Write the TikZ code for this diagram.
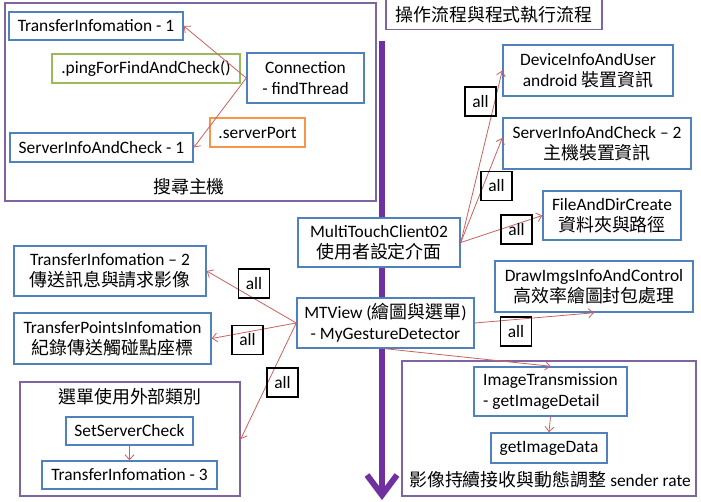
\documentclass[tikz,border=0pt]{standalone}
\usepackage{fontspec}
\setmainfont{Carlito}
\newfontfamily\cjk[Scale=1.03]{Noto Sans CJK TC}
\usetikzlibrary{arrows.meta}
\definecolor{bl}{RGB}{79,129,189}
\definecolor{pu}{RGB}{128,100,162}
\definecolor{gr}{RGB}{155,187,89}
\definecolor{orng}{RGB}{247,150,70}
\definecolor{bigpu}{RGB}{112,48,160}
\definecolor{rd}{RGB}{205,95,95}
\tikzset{
  box/.style={draw=bl, line width=1.5pt, fill=white, inner sep=0pt, align=center},
  gbox/.style={box, draw=gr},
  obox/.style={box, draw=orng},
  group/.style={draw=pu, line width=1.5pt, inner sep=0pt},
  allbox/.style={draw=black, line width=1.6pt, inner sep=0pt, minimum width=31pt, minimum height=29pt},
  lbl/.style={inner sep=0pt},
  rarrow/.style={draw=rd, line width=0.8pt, -{Straight Barb[length=5pt,width=9pt]}},
}
\begin{document}
\begin{tikzpicture}[x=1pt,y=-1pt,font=\fontsize{17.4}{21}\selectfont]
\useasboundingbox (0,0) rectangle (701,501);
% group frames
\node[group, minimum width=371pt, minimum height=198pt] (search) at (190.5,102) {};
\node[lbl] (searchlbl) at (189,187) {\cjk 搜尋主機};
\node[group, minimum width=216pt, minimum height=30pt, fill=white] (title) at (494,14.5) {\cjk 操作流程與程式執行流程};
\node[group, minimum width=220pt, minimum height=114pt] (menu) at (130,439) {};
\node[lbl] (menulbl) at (130,397) {\cjk 選單使用外部類別};
\node[group, minimum width=294pt, minimum height=135pt] (img) at (549,428.5) {};
\node[lbl] (imglbl) at (550,480) {{\cjk 影像持續接收與動態調整} sender rate};
% main flow arrow
\coordinate (flowtop) at (382,41);
\coordinate (flowend) at (382,500);
\draw[bigpu, line width=6pt, -{Straight Barb[length=20pt,width=30pt]}] (flowtop) -- (flowend);
% boxes
\node[box, minimum width=174pt, minimum height=28pt] (ti1) at (96,26) {TransferInfomation - 1};
\node[gbox, minimum width=188pt, minimum height=29pt] (ping) at (146,68.5) {.pingForFindAndCheck()};
\node[box, minimum width=117pt, minimum height=50pt] (conn) at (305.5,78) {Connection\\- findThread};
\node[obox, minimum width=95pt, minimum height=29pt] (sport) at (257.5,132.5) {.serverPort};
\node[box, minimum width=183pt, minimum height=29pt] (sic1) at (101.5,147.5) {ServerInfoAndCheck - 1};
\node[box, minimum width=170pt, minimum height=51pt] (dev) at (588,70.5) {DeviceInfoAndUser\\android {\cjk 裝置資訊}};
\node[box, minimum width=188pt, minimum height=51pt] (sic2) at (597,143.5) {ServerInfoAndCheck – 2\\{\cjk 主機裝置資訊}};
\node[box, minimum width=138pt, minimum height=49pt] (file) at (612,215.5) {FileAndDirCreate\\{\cjk 資料夾與路徑}};
\node[box, minimum width=162pt, minimum height=49pt] (mtc) at (379,242.5) {MultiTouchClient02\\{\cjk 使用者設定介面}};
\node[box, minimum width=192pt, minimum height=50pt] (ti2) at (110,271) {TransferInfomation – 2\\{\cjk 傳送訊息與請求影像}};
\node[box, minimum width=197pt, minimum height=51pt] (tpi) at (112.5,338.5) {TransferPointsInfomation\\{\cjk 紀錄傳送觸碰點座標}};
\node[box, minimum width=127pt, minimum height=28pt] (ssc) at (129.5,431) {SetServerCheck};
\node[box, minimum width=175pt, minimum height=28pt] (ti3) at (129.5,475) {TransferInfomation - 3};
\node[box, minimum width=177pt, minimum height=50pt] (mtv) at (385.5,323) {MTView ({\cjk 繪圖與選單})\\- MyGestureDetector};
\node[box, minimum width=198pt, minimum height=51pt] (draw) at (594,286.5) {DrawImgsInfoAndControl\\{\cjk 高效率繪圖封包處理}};
\node[box, minimum width=153pt, minimum height=49pt, align=left] (it) at (550.5,391.5) {ImageTransmission\\- getImageDetail};
\node[box, minimum width=116pt, minimum height=30pt] (gid) at (549,448) {getImageData};
% connectors
\draw[rarrow] (conn.west) -- (ti1.east);
\draw[rarrow] (conn.west) -- (sic1.east);
\draw[rarrow] (mtc.east) -- (dev.west);
\draw[rarrow] (mtc.east) -- ([yshift=5.5pt]sic2.west);
\draw[rarrow] (mtc.east) -- (file.west);
\draw[rarrow] (mtv.west) -- (ti2.east);
\draw[rarrow] (mtv.west) -- (tpi.east);
\draw[rarrow] (mtv.west) -- (menu.east);
\draw[rarrow] (mtv.east) -- (draw.south);
\draw[rarrow] (mtv.south) -- (it.north);
\draw[rarrow] (it.south) -- (gid.north);
\draw[rarrow] (ssc.south) -- (ti3.north);
% all labels
\node[allbox] (all1) at (480.5,101.5) {all};
\node[allbox] (all2) at (496.5,186) {all};
\node[allbox] (all3) at (516.5,229.5) {all};
\node[allbox] (all4) at (254,283.5) {all};
\node[allbox] (all5) at (247.5,340) {all};
\node[allbox] (all6) at (282.5,382.5) {all};
\node[allbox] (all7) at (516,331.5) {all};
\end{tikzpicture}
\end{document}
